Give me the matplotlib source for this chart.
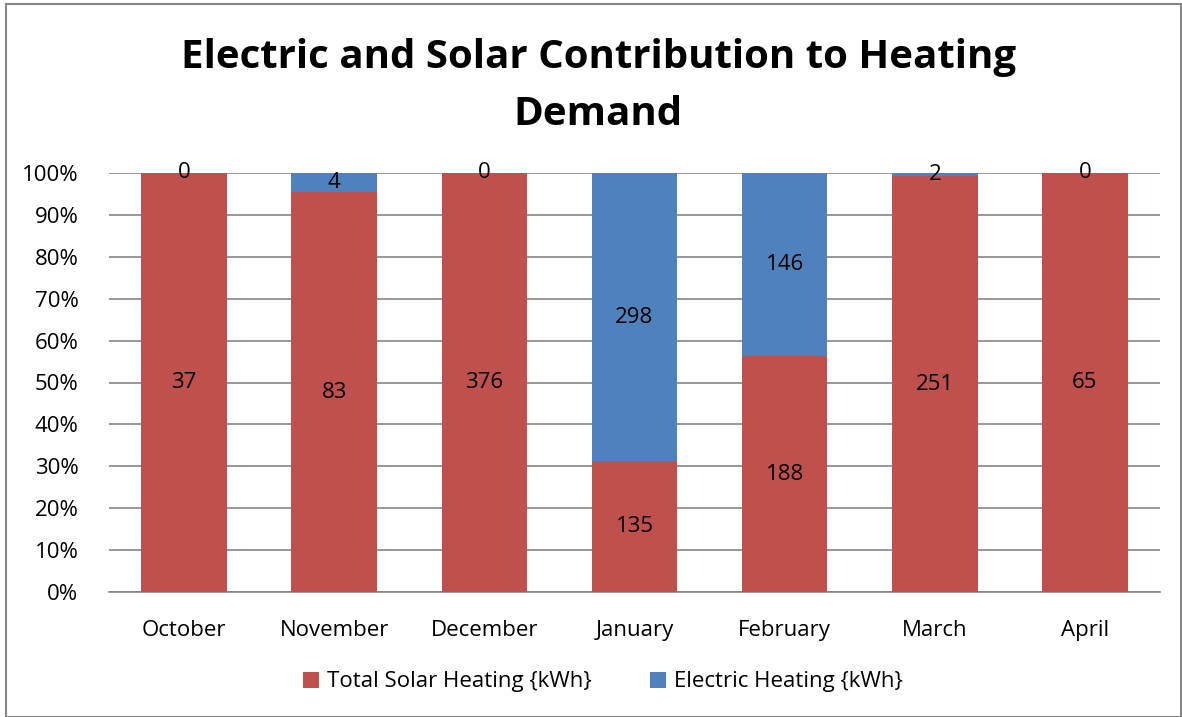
import numpy as np
import matplotlib.pyplot as plt
from matplotlib.patches import Rectangle

# Данные
months = ["October", "November", "December", "January", "February", "March", "April"]
solar = [37, 83, 376, 135, 188, 251, 65]
electric = [0, 4, 0, 298, 146, 2, 0]
y_ticks = [0, 10, 20, 30, 40, 50, 60, 70, 80, 90, 100]

red = "#C0504D"
blue = "#4F81BD"

plt.rcParams['font.family'] = ['Open Sans', 'DejaVu Sans']

fig = plt.figure(figsize=(11.82, 7.17), dpi=100)
ax = fig.add_axes([109 / 1182, 1 - 592 / 717, (1160 - 109) / 1182, (592 - 173) / 717])

solar = np.array(solar, dtype=float)
electric = np.array(electric, dtype=float)
total = solar + electric
solar_pct = solar / total * 100
elec_pct = electric / total * 100
x = np.arange(len(months))

ax.bar(x, solar_pct, width=0.57, color=red, zorder=3, label="Total Solar Heating {kWh}")
ax.bar(x, elec_pct, width=0.57, bottom=solar_pct, color=blue, zorder=3, label="Electric Heating {kWh}")

# Подписи значений
fs = 16
for i in range(len(months)):
    ax.text(x[i], solar_pct[i] / 2, f"{int(solar[i])}", ha='center', va='center', fontsize=fs, zorder=4)
    ax.text(x[i], solar_pct[i] + elec_pct[i] / 2, f"{int(electric[i])}", ha='center', va='center',
            fontsize=fs, zorder=4)

ax.set_xlim(-0.5, len(months) - 0.5)
ax.set_ylim(0, 100)
ax.set_yticks(y_ticks)
ax.set_yticklabels([f"{t}%" for t in y_ticks], fontsize=fs)
ax.set_xticks(x)
ax.set_xticklabels(months, fontsize=fs)
ax.tick_params(axis='both', length=0)
ax.tick_params(axis='x', pad=20)
ax.tick_params(axis='y', pad=22)
ax.grid(axis='y', color='#868686', linewidth=1.2, zorder=0)
for s in ["left", "right", "top"]:
    ax.spines[s].set_visible(False)
ax.spines["bottom"].set_color('#868686')
ax.spines["bottom"].set_linewidth(1.2)

fig.text(0.506, 1 - 86 / 717, "Electric and Solar Contribution to Heating\nDemand", ha='center', va='center',
         fontsize=29, fontweight='bold', linespacing=1.6)

fig.legend(loc='center', bbox_to_anchor=(0.51, 1 - 682 / 717), ncol=2, frameon=False, fontsize=fs,
           handlelength=0.75, handleheight=0.75, columnspacing=2.6, handletextpad=0.35)

fig.patches.append(Rectangle((6 / 1182, 0), 1 - 7 / 1182, 1 - 4 / 717, transform=fig.transFigure,
                             fill=False, edgecolor='#868686', linewidth=1.5))

fig.savefig("out.png", dpi=100)
